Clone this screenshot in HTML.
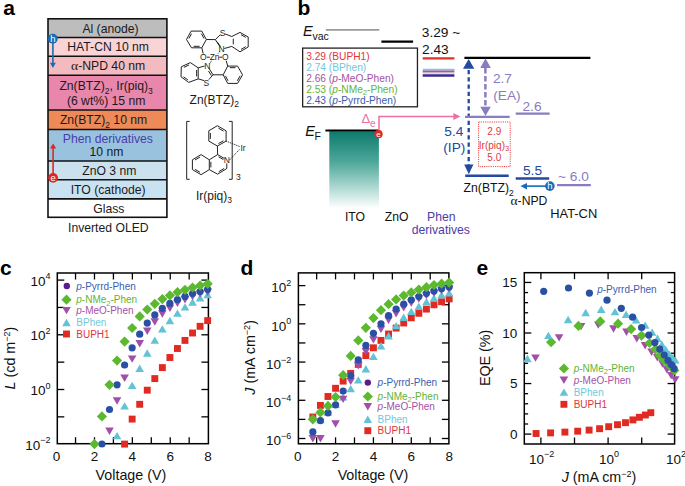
<!DOCTYPE html>
<html><head><meta charset="utf-8"><title>Inverted OLED figure</title>
<style>
html,body{margin:0;padding:0;background:#fff;width:685px;height:486px;overflow:hidden}
svg{display:block}
svg text{font-family:"Liberation Sans",sans-serif}
</style></head><body>
<svg width="685" height="486" viewBox="0 0 685 486">
<rect width="685" height="486" fill="#fff"/>
<g id="pa">
<text x="3.2" y="15" font-size="21" fill="#000" text-anchor="start" font-weight="bold" font-style="normal" >a</text>
<text x="297.6" y="14.6" font-size="21" fill="#000" text-anchor="start" font-weight="bold" font-style="normal" >b</text>
<text x="0" y="275" font-size="21" fill="#000" text-anchor="start" font-weight="bold" font-style="normal" >c</text>
<text x="240.4" y="275" font-size="21" fill="#000" text-anchor="start" font-weight="bold" font-style="normal" >d</text>
<text x="476.6" y="274.6" font-size="21" fill="#000" text-anchor="start" font-weight="bold" font-style="normal" >e</text>
<rect x="48.0" y="18.8" width="118.9" height="18.7" fill="#bdbdbd" stroke="none" stroke-width="0" />
<rect x="48.0" y="37.5" width="118.9" height="18.799999999999997" fill="#f9d4d7" stroke="none" stroke-width="0" />
<rect x="48.0" y="56.3" width="118.9" height="19.0" fill="#f3bbbf" stroke="none" stroke-width="0" />
<rect x="48.0" y="75.3" width="118.9" height="34.7" fill="#e986ab" stroke="none" stroke-width="0" />
<rect x="48.0" y="110.0" width="118.9" height="19.5" fill="#ee8a58" stroke="none" stroke-width="0" />
<rect x="48.0" y="129.5" width="118.9" height="31.5" fill="#98c2de" stroke="none" stroke-width="0" />
<rect x="48.0" y="161.0" width="118.9" height="18.80000000000001" fill="#cbe1ee" stroke="none" stroke-width="0" />
<rect x="48.0" y="179.8" width="118.9" height="19.099999999999994" fill="#c9e2f1" stroke="none" stroke-width="0" />
<rect x="48.0" y="198.9" width="118.9" height="18.400000000000006" fill="#ffffff" stroke="none" stroke-width="0" />
<line x1="48.0" y1="37.5" x2="166.9" y2="37.5" stroke="#111" stroke-width="1.6" />
<line x1="48.0" y1="56.3" x2="166.9" y2="56.3" stroke="#111" stroke-width="1.6" />
<line x1="48.0" y1="75.3" x2="166.9" y2="75.3" stroke="#111" stroke-width="1.6" />
<line x1="48.0" y1="110.0" x2="166.9" y2="110.0" stroke="#111" stroke-width="1.6" />
<line x1="48.0" y1="129.5" x2="166.9" y2="129.5" stroke="#111" stroke-width="1.6" />
<line x1="48.0" y1="161.0" x2="166.9" y2="161.0" stroke="#111" stroke-width="1.6" />
<line x1="48.0" y1="179.8" x2="166.9" y2="179.8" stroke="#111" stroke-width="1.6" />
<line x1="48.0" y1="198.9" x2="166.9" y2="198.9" stroke="#111" stroke-width="1.6" />
<rect x="48.0" y="18.8" width="118.9" height="198.5" fill="none" stroke="#111" stroke-width="1.6" />
<text x="82.4" y="32.7" font-size="12.2" fill="#1a1a1a" text-anchor="start" font-weight="normal" font-style="normal" >Al (anode)</text>
<text x="67.3" y="51.4" font-size="12.2" fill="#1a1a1a" text-anchor="start" font-weight="normal" font-style="normal" >HAT-CN 10 nm</text>
<text x="71.1" y="70.2" font-size="12.2" fill="#1a1a1a"><tspan font-family='"Liberation Serif", serif' font-size="13.5">α</tspan>-NPD 40 nm</text>
<text x="59.4" y="90.0" font-size="12.2" fill="#1a1a1a">Zn(BTZ)<tspan font-size="8.5" dy="4">2</tspan><tspan dy="-4">, Ir(piq)</tspan><tspan font-size="8.5" dy="4">3</tspan></text>
<text x="66.9" y="104.6" font-size="12.2" fill="#1a1a1a" text-anchor="start" font-weight="normal" font-style="normal" >(6 wt%) 15 nm</text>
<text x="59.9" y="123.9" font-size="12.2" fill="#1a1a1a">Zn(BTZ)<tspan font-size="8.5" dy="4">2</tspan><tspan dy="-4"> 10 nm</tspan></text>
<text x="62.8" y="143.3" font-size="12.2" fill="#4a3ea6" text-anchor="start" font-weight="normal" font-style="normal" >Phen derivatives</text>
<text x="89.6" y="156.4" font-size="12.2" fill="#1a1a1a" text-anchor="start" font-weight="normal" font-style="normal" >10 nm</text>
<text x="82.2" y="175.0" font-size="12.2" fill="#1a1a1a" text-anchor="start" font-weight="normal" font-style="normal" >ZnO 3 nm</text>
<text x="70.7" y="194.0" font-size="12.2" fill="#1a1a1a" text-anchor="start" font-weight="normal" font-style="normal" >ITO (cathode)</text>
<text x="93.3" y="213.2" font-size="12.2" fill="#1a1a1a" text-anchor="start" font-weight="normal" font-style="normal" >Glass</text>
<text x="68.0" y="232.4" font-size="12.2" fill="#1a1a1a" text-anchor="start" font-weight="normal" font-style="normal" >Inverted OLED</text>
<line x1="52.9" y1="40" x2="52.9" y2="63.5" stroke="#176cb5" stroke-width="1.6" />
<polygon points="50.00,62.80 55.80,62.80 52.90,67.90" fill="#176cb5" stroke="none" stroke-width="0"/>
<circle cx="52.8" cy="38.7" r="4.9" fill="#176cb5"/>
<text x="52.9" y="42.0" font-size="9.5" fill="#fff" text-anchor="middle" font-weight="normal" font-style="normal" >h</text>
<line x1="53.1" y1="148" x2="53.1" y2="175" stroke="#e1261f" stroke-width="1.6" />
<polygon points="50.00,148.60 56.20,148.60 53.10,143.40" fill="#e1261f" stroke="none" stroke-width="0"/>
<circle cx="53.1" cy="177.9" r="4.9" fill="#e1261f"/>
<text x="53.1" y="180.9" font-size="9.5" fill="#fff" text-anchor="middle" font-weight="normal" font-style="normal" >e</text>
<polygon points="191.10,31.10 201.80,31.10 206.30,39.50 201.80,47.80 191.50,47.80 186.50,39.50" fill="none" stroke="#222" stroke-width="1.0" stroke-linejoin="round"/>
<line x1="188.87" y1="38.47" x2="191.51" y2="33.65" stroke="#222" stroke-width="1.0" />
<line x1="201.4" y1="33.65" x2="203.98" y2="38.47" stroke="#222" stroke-width="1.0" />
<line x1="199.58" y1="46.31" x2="193.67" y2="46.31" stroke="#222" stroke-width="1.0" />
<line x1="206.3" y1="39.5" x2="215.3" y2="39.6" stroke="#222" stroke-width="1.0" />
<line x1="215.3" y1="39.6" x2="220.2" y2="34.8" stroke="#222" stroke-width="1.0" />
<line x1="225.2" y1="34.0" x2="231.8" y2="36.5" stroke="#222" stroke-width="1.0" />
<line x1="215.3" y1="39.6" x2="219.9" y2="46.6" stroke="#222" stroke-width="1.0" />
<line x1="217.2" y1="41.9" x2="220.4" y2="46.4" stroke="#222" stroke-width="1.0" />
<line x1="224.3" y1="48.5" x2="231.8" y2="46.4" stroke="#222" stroke-width="1.0" />
<text x="222.7" y="36.0" font-size="8.5" fill="#222" text-anchor="middle" font-weight="normal" font-style="normal" >S</text>
<text x="221.6" y="52.0" font-size="8.5" fill="#222" text-anchor="middle" font-weight="normal" font-style="normal" >N</text>
<polyline points="231.80,36.50 240.00,32.40 248.20,37.00 248.20,47.00 240.00,51.80 231.80,46.40" fill="none" stroke="#222" stroke-width="1.0" stroke-linejoin="round"/>
<line x1="233.28" y1="44.39" x2="233.28" y2="38.71" stroke="#222" stroke-width="1.0" />
<line x1="241.01" y1="34.69" x2="245.72" y2="37.33" stroke="#222" stroke-width="1.0" />
<line x1="245.72" y1="46.69" x2="241.01" y2="49.45" stroke="#222" stroke-width="1.0" />
<line x1="201.8" y1="47.8" x2="203.2" y2="53.6" stroke="#222" stroke-width="1.0" />
<text x="203.4" y="60.3" font-size="8.5" fill="#222" text-anchor="middle" font-weight="normal" font-style="normal" >O</text>
<line x1="206.8" y1="57.2" x2="209.8" y2="57.2" stroke="#222" stroke-width="1.0" />
<text x="214.6" y="60.3" font-size="8.5" fill="#222" text-anchor="middle" font-weight="normal" font-style="normal" >Zn</text>
<line x1="219.4" y1="57.2" x2="222.0" y2="57.2" stroke="#222" stroke-width="1.0" />
<text x="225.3" y="60.3" font-size="8.5" fill="#222" text-anchor="middle" font-weight="normal" font-style="normal" >O</text>
<line x1="219.9" y1="51.2" x2="217.6" y2="54.0" stroke="#222" stroke-width="1.0" stroke-dasharray="1,1"/>
<line x1="211.5" y1="60.8" x2="209.5" y2="64.2" stroke="#222" stroke-width="1.0" stroke-dasharray="1,1"/>
<line x1="226.2" y1="60.7" x2="227.7" y2="66.1" stroke="#222" stroke-width="1.0" />
<polygon points="227.70,66.10 237.60,66.10 242.50,74.80 237.60,83.40 227.70,83.40 223.20,74.80" fill="none" stroke="#222" stroke-width="1.0" stroke-linejoin="round"/>
<line x1="229.8" y1="67.67" x2="235.48" y2="67.67" stroke="#222" stroke-width="1.0" />
<line x1="240.12" y1="75.86" x2="237.3" y2="80.79" stroke="#222" stroke-width="1.0" />
<line x1="228.03" y1="80.79" x2="225.45" y2="75.86" stroke="#222" stroke-width="1.0" />
<line x1="213.0" y1="74.8" x2="223.2" y2="74.8" stroke="#222" stroke-width="1.0" />
<text x="207.2" y="68.8" font-size="8.5" fill="#222" text-anchor="middle" font-weight="normal" font-style="normal" >N</text>
<text x="206.4" y="86.2" font-size="8.5" fill="#222" text-anchor="middle" font-weight="normal" font-style="normal" >S</text>
<line x1="209.0" y1="68.4" x2="213.0" y2="74.8" stroke="#222" stroke-width="1.0" />
<line x1="208.5" y1="71.0" x2="211.4" y2="75.5" stroke="#222" stroke-width="1.0" />
<line x1="213.0" y1="74.8" x2="208.8" y2="79.6" stroke="#222" stroke-width="1.0" />
<line x1="204.2" y1="80.6" x2="198.2" y2="78.9" stroke="#222" stroke-width="1.0" />
<line x1="198.2" y1="67.8" x2="204.6" y2="66.0" stroke="#222" stroke-width="1.0" />
<polygon points="198.20,67.80 190.30,62.60 181.30,66.80 181.00,76.80 188.70,82.40 198.20,78.90" fill="none" stroke="#222" stroke-width="1.0" stroke-linejoin="round"/>
<line x1="196.65" y1="70.03" x2="196.65" y2="76.4" stroke="#222" stroke-width="1.0" />
<line x1="189.07" y1="64.92" x2="183.9" y2="67.33" stroke="#222" stroke-width="1.0" />
<line x1="183.5" y1="76.73" x2="187.91" y2="79.95" stroke="#222" stroke-width="1.0" />
<text x="189.6" y="103.9" font-size="12" fill="#1a1a1a">Zn(BTZ)<tspan font-size="8.5" dy="3.2">2</tspan></text>
<line x1="186.7" y1="121.4" x2="186.7" y2="179.3" stroke="#222" stroke-width="1.0" />
<line x1="186.7" y1="121.4" x2="189.7" y2="121.4" stroke="#222" stroke-width="1.0" />
<line x1="186.7" y1="179.3" x2="189.7" y2="179.3" stroke="#222" stroke-width="1.0" />
<line x1="232.2" y1="121.4" x2="232.2" y2="179.3" stroke="#222" stroke-width="1.0" />
<line x1="232.2" y1="121.4" x2="229.0" y2="121.4" stroke="#222" stroke-width="1.0" />
<line x1="232.2" y1="179.3" x2="229.0" y2="179.3" stroke="#222" stroke-width="1.0" />
<text x="236.0" y="180.0" font-size="8.5" fill="#222" text-anchor="start" font-weight="normal" font-style="normal" >3</text>
<polygon points="217.40,125.70 226.10,130.80 226.10,141.10 217.40,146.00 208.80,141.10 208.80,130.80" fill="none" stroke="#222" stroke-width="1.0" stroke-linejoin="round"/>
<line x1="218.47" y1="128.16" x2="223.46" y2="131.09" stroke="#222" stroke-width="1.0" />
<line x1="223.46" y1="140.77" x2="218.47" y2="143.58" stroke="#222" stroke-width="1.0" />
<line x1="210.35" y1="138.9" x2="210.35" y2="132.98" stroke="#222" stroke-width="1.0" />
<line x1="217.4" y1="146.0" x2="217.6" y2="154.6" stroke="#222" stroke-width="1.0" />
<line x1="217.6" y1="154.6" x2="224.2" y2="158.4" stroke="#222" stroke-width="1.0" />
<line x1="218.6" y1="156.8" x2="223.4" y2="159.6" stroke="#222" stroke-width="1.0" />
<text x="226.8" y="163.4" font-size="8.5" fill="#222" text-anchor="middle" font-weight="normal" font-style="normal" >N</text>
<polyline points="226.80,163.40 226.80,168.50 217.60,174.20 209.30,169.60 209.30,159.80 217.60,154.60" fill="none" stroke="#222" stroke-width="1.0" stroke-linejoin="round"/>
<line x1="224.07" y1="168.46" x2="218.79" y2="171.73" stroke="#222" stroke-width="1.0" />
<line x1="210.85" y1="167.46" x2="210.85" y2="161.83" stroke="#222" stroke-width="1.0" />
<polyline points="209.30,159.80 201.10,154.60 192.40,159.80 192.40,169.60 201.10,174.70 209.30,169.60" fill="none" stroke="#222" stroke-width="1.0" stroke-linejoin="round"/>
<line x1="199.98" y1="157.04" x2="194.98" y2="160.02" stroke="#222" stroke-width="1.0" />
<line x1="194.98" y1="169.33" x2="199.98" y2="172.25" stroke="#222" stroke-width="1.0" />
<text x="243.0" y="151.0" font-size="8.5" fill="#222" text-anchor="middle" font-weight="normal" font-style="normal" >Ir</text>
<line x1="226.1" y1="141.1" x2="239.5" y2="146.5" stroke="#222" stroke-width="1.0" stroke-dasharray="1.2,1"/>
<line x1="229.5" y1="160.0" x2="239.5" y2="149.5" stroke="#222" stroke-width="1.0" stroke-dasharray="1.2,1"/>
<text x="195.9" y="200.0" font-size="12" fill="#1a1a1a">Ir(piq)<tspan font-size="8.5" dy="3.2">3</tspan></text>
</g>
<g id="pb">
<text x="302.9" y="35.7" font-size="14.5" fill="#111" font-style="italic">E</text>
<text x="312.4" y="39.6" font-size="10.5" fill="#111" text-anchor="start" font-weight="normal" font-style="normal" >vac</text>
<line x1="325.8" y1="29.9" x2="379.3" y2="29.9" stroke="#9a9a9a" stroke-width="1.8" />
<line x1="381.4" y1="41.6" x2="413.1" y2="41.6" stroke="#000" stroke-width="2.2" />
<rect x="302.65" y="48.1" width="114.8" height="58.7" fill="none" stroke="#222" stroke-width="1.3" />
<text x="306.2" y="59.5" font-size="10.2" fill="#e0353a">3.29 (BUPH1)</text>
<text x="306.2" y="70.5" font-size="10.2" fill="#72c8dc">2.74 (BPhen)</text>
<text x="306.2" y="81.5" font-size="10.2" fill="#a451a6">2.66 (<tspan font-style="italic">p</tspan>-MeO-Phen)</text>
<text x="306.2" y="92.5" font-size="10.2" fill="#62b33c">2.53 (<tspan font-style="italic">p</tspan>-NMe<tspan font-size="7.5" dy="2.2">2</tspan><tspan dy="-2.2">-Phen)</tspan></text>
<text x="306.2" y="103.5" font-size="10.2" fill="#3a5db0">2.43 (<tspan font-style="italic">p</tspan>-Pyrrd-Phen)</text>
<text x="421.8" y="37.2" font-size="13.7" fill="#111" text-anchor="start" font-weight="normal" font-style="normal" >3.29 ~</text>
<text x="422.1" y="54.3" font-size="13.7" fill="#111" text-anchor="start" font-weight="normal" font-style="normal" >2.43</text>
<line x1="422.7" y1="58.4" x2="454.4" y2="58.4" stroke="#e0302a" stroke-width="2.3" />
<line x1="422.7" y1="69.6" x2="454.4" y2="69.6" stroke="#70cfe0" stroke-width="1.6" />
<line x1="422.7" y1="71.5" x2="454.4" y2="71.5" stroke="#a855a7" stroke-width="2.2" />
<line x1="422.7" y1="73.3" x2="454.4" y2="73.3" stroke="#c8e67a" stroke-width="0.9" />
<line x1="422.7" y1="75.4" x2="454.4" y2="75.4" stroke="#3b2a8e" stroke-width="2.5" />
<line x1="464.4" y1="57.9" x2="590.4" y2="57.9" stroke="#000" stroke-width="2.1" />
<line x1="468.7" y1="69.9" x2="468.7" y2="165.5" stroke="#2449a1" stroke-width="2.3" stroke-dasharray="4.3,2.95"/>
<polygon points="463.00,68.80 474.30,68.80 468.70,58.90" fill="#2449a1" stroke="none" stroke-width="0"/>
<polygon points="464.20,164.60 473.40,164.60 468.80,174.20" fill="#2449a1" stroke="none" stroke-width="0"/>
<line x1="485.4" y1="68" x2="485.4" y2="107" stroke="#8a7cc0" stroke-width="2.5" stroke-dasharray="5.5,2.5"/>
<polygon points="480.30,68.00 490.80,68.00 485.50,58.30" fill="#8a7cc0" stroke="none" stroke-width="0"/>
<polygon points="480.30,106.80 490.80,106.80 485.50,116.00" fill="#8a7cc0" stroke="none" stroke-width="0"/>
<line x1="465.0" y1="116.8" x2="509.7" y2="116.8" stroke="#8a7cc0" stroke-width="2.2" />
<text x="492.9" y="82.6" font-size="13.7" fill="#8a7cc0" text-anchor="start" font-weight="normal" font-style="normal" >2.7</text>
<text x="493.3" y="100.0" font-size="13.7" fill="#8a7cc0" text-anchor="start" font-weight="normal" font-style="normal" >(EA)</text>
<rect x="478.6" y="122.0" width="31.6" height="44.6" fill="none" stroke="#e6393c" stroke-width="1.0" stroke-dasharray="1.1,1.1"/>
<text x="494.3" y="135.4" font-size="10" fill="#e03a3d" text-anchor="middle" font-weight="normal" font-style="normal" >2.9</text>
<text x="494.0" y="148.6" font-size="10" fill="#e03a3d" text-anchor="middle">Ir(piq)<tspan font-size="7.5" dy="2.5">3</tspan></text>
<text x="494.3" y="161.0" font-size="10" fill="#e03a3d" text-anchor="middle" font-weight="normal" font-style="normal" >5.0</text>
<line x1="465.2" y1="175.7" x2="508.7" y2="175.7" stroke="#2449a1" stroke-width="2.4" />
<text x="463.6" y="192.2" font-size="12.2" fill="#111">Zn(BTZ)<tspan font-size="8.5" dy="3.4">2</tspan></text>
<text x="444.3" y="135.8" font-size="13.7" fill="#2449a1" text-anchor="start" font-weight="normal" font-style="normal" >5.4</text>
<text x="443.3" y="152.2" font-size="13.7" fill="#2449a1" text-anchor="start" font-weight="normal" font-style="normal" >(IP)</text>
<defs><linearGradient id="tg" x1="0" y1="0" x2="0" y2="1"><stop offset="0" stop-color="#0d7a6c"/><stop offset="0.4" stop-color="#4ea89a"/><stop offset="0.75" stop-color="#b3dbd4"/><stop offset="1" stop-color="#ffffff"/></linearGradient></defs>
<rect x="329.3" y="131.2" width="49.6" height="77" fill="url(#tg)" stroke="none" stroke-width="0" />
<line x1="325.4" y1="130.5" x2="378.5" y2="130.5" stroke="#000" stroke-width="2.2" />
<text x="305.2" y="136.4" font-size="14.5" fill="#111" font-style="italic">E</text>
<text x="314.6" y="140.3" font-size="10.5" fill="#111" text-anchor="start" font-weight="normal" font-style="normal" >F</text>
<polyline points="379.0,131 379.0,116.6 454.5,116.6" fill="none" stroke="#ec6fa6" stroke-width="1.5"/>
<polygon points="453.40,113.10 460.40,116.60 453.40,120.00" fill="#ec6fa6" stroke="none" stroke-width="0"/>
<text x="361.6" y="122.8" font-size="13" fill="#ec6fa6" text-anchor="start" font-weight="normal" font-style="normal" >Δ</text>
<text x="370.0" y="126.9" font-size="10" fill="#ec6fa6" text-anchor="start" font-weight="normal" font-style="normal" >e</text>
<circle cx="378.5" cy="134.2" r="4.1" fill="#e1261f"/>
<text x="378.5" y="136.9" font-size="8" fill="#fff" text-anchor="middle" font-weight="normal" font-style="normal" >e</text>
<text x="344.9" y="220.6" font-size="12.2" fill="#111" text-anchor="start" font-weight="normal" font-style="normal" >ITO</text>
<text x="384.7" y="220.6" font-size="12.2" fill="#111" text-anchor="start" font-weight="normal" font-style="normal" >ZnO</text>
<text x="427.0" y="220.6" font-size="12.2" fill="#4a3ea6" text-anchor="start" font-weight="normal" font-style="normal" >Phen</text>
<text x="411.7" y="234.4" font-size="12.2" fill="#4a3ea6" text-anchor="start" font-weight="normal" font-style="normal" >derivatives</text>
<line x1="515.7" y1="113.7" x2="549.6" y2="113.7" stroke="#8a7cc0" stroke-width="2.2" />
<text x="522.5" y="110.6" font-size="13.7" fill="#8a7cc0" text-anchor="start" font-weight="normal" font-style="normal" >2.6</text>
<line x1="515.7" y1="178.5" x2="549.2" y2="178.5" stroke="#2449a1" stroke-width="2.4" />
<text x="523.0" y="175.4" font-size="13.7" fill="#2449a1" text-anchor="start" font-weight="normal" font-style="normal" >5.5</text>
<line x1="556.9" y1="185.2" x2="590.8" y2="185.2" stroke="#8a7cc0" stroke-width="2.2" />
<text x="558.0" y="181.0" font-size="13.7" fill="#8a7cc0" text-anchor="start" font-weight="normal" font-style="normal" >~ 6.0</text>
<line x1="526" y1="186.1" x2="546" y2="186.1" stroke="#176cb5" stroke-width="1.6" />
<polygon points="527.00,182.90 527.00,189.40 520.40,186.10" fill="#176cb5" stroke="none" stroke-width="0"/>
<circle cx="549.9" cy="186.1" r="4.8" fill="#176cb5"/>
<text x="550.0" y="189.4" font-size="9.5" fill="#fff" text-anchor="middle" font-weight="normal" font-style="normal" >h</text>
<text x="510.5" y="204.8" font-size="12.2" fill="#111"><tspan font-family='"Liberation Serif", serif' font-size="13.5">α</tspan>-NPD</text>
<text x="550.2" y="217.8" font-size="12.9" fill="#111" text-anchor="start" font-weight="normal" font-style="normal" >HAT-CN</text>
</g>
<g id="pcde">
<rect x="57.3" y="273.0" width="151.10000000000002" height="170.7" fill="none" stroke="#000" stroke-width="1.5" />
<line x1="75.54" y1="443.7" x2="75.54" y2="437.2" stroke="#000" stroke-width="1.3" />
<line x1="75.54" y1="273.0" x2="75.54" y2="279.5" stroke="#000" stroke-width="1.3" />
<line x1="94.48" y1="443.7" x2="94.48" y2="437.2" stroke="#000" stroke-width="1.3" />
<line x1="94.48" y1="273.0" x2="94.48" y2="279.5" stroke="#000" stroke-width="1.3" />
<line x1="113.42" y1="443.7" x2="113.42" y2="437.2" stroke="#000" stroke-width="1.3" />
<line x1="113.42" y1="273.0" x2="113.42" y2="279.5" stroke="#000" stroke-width="1.3" />
<line x1="132.36" y1="443.7" x2="132.36" y2="437.2" stroke="#000" stroke-width="1.3" />
<line x1="132.36" y1="273.0" x2="132.36" y2="279.5" stroke="#000" stroke-width="1.3" />
<line x1="151.3" y1="443.7" x2="151.3" y2="437.2" stroke="#000" stroke-width="1.3" />
<line x1="151.3" y1="273.0" x2="151.3" y2="279.5" stroke="#000" stroke-width="1.3" />
<line x1="170.24" y1="443.7" x2="170.24" y2="437.2" stroke="#000" stroke-width="1.3" />
<line x1="170.24" y1="273.0" x2="170.24" y2="279.5" stroke="#000" stroke-width="1.3" />
<line x1="189.18" y1="443.7" x2="189.18" y2="437.2" stroke="#000" stroke-width="1.3" />
<line x1="189.18" y1="273.0" x2="189.18" y2="279.5" stroke="#000" stroke-width="1.3" />
<line x1="57.3" y1="416.85" x2="64.3" y2="416.85" stroke="#000" stroke-width="1.3" />
<line x1="208.4" y1="416.85" x2="201.4" y2="416.85" stroke="#000" stroke-width="1.3" />
<line x1="57.3" y1="389.5" x2="64.3" y2="389.5" stroke="#000" stroke-width="1.3" />
<line x1="208.4" y1="389.5" x2="201.4" y2="389.5" stroke="#000" stroke-width="1.3" />
<line x1="57.3" y1="362.15" x2="64.3" y2="362.15" stroke="#000" stroke-width="1.3" />
<line x1="208.4" y1="362.15" x2="201.4" y2="362.15" stroke="#000" stroke-width="1.3" />
<line x1="57.3" y1="334.8" x2="64.3" y2="334.8" stroke="#000" stroke-width="1.3" />
<line x1="208.4" y1="334.8" x2="201.4" y2="334.8" stroke="#000" stroke-width="1.3" />
<line x1="57.3" y1="307.45" x2="64.3" y2="307.45" stroke="#000" stroke-width="1.3" />
<line x1="208.4" y1="307.45" x2="201.4" y2="307.45" stroke="#000" stroke-width="1.3" />
<line x1="57.3" y1="280.1" x2="64.3" y2="280.1" stroke="#000" stroke-width="1.3" />
<line x1="208.4" y1="280.1" x2="201.4" y2="280.1" stroke="#000" stroke-width="1.3" />
<text x="56.6" y="460.8" font-size="13.5" fill="#111" text-anchor="middle" font-weight="normal" font-style="normal" >0</text>
<text x="94.48" y="460.8" font-size="13.5" fill="#111" text-anchor="middle" font-weight="normal" font-style="normal" >2</text>
<text x="132.36" y="460.8" font-size="13.5" fill="#111" text-anchor="middle" font-weight="normal" font-style="normal" >4</text>
<text x="170.24" y="460.8" font-size="13.5" fill="#111" text-anchor="middle" font-weight="normal" font-style="normal" >6</text>
<text x="208.12" y="460.8" font-size="13.5" fill="#111" text-anchor="middle" font-weight="normal" font-style="normal" >8</text>
<text x="50.6" y="285.60" font-size="13.5" fill="#111" text-anchor="end">10<tspan font-size="9" dy="-6.3">4</tspan></text>
<text x="50.6" y="340.30" font-size="13.5" fill="#111" text-anchor="end">10<tspan font-size="9" dy="-6.3">2</tspan></text>
<text x="50.6" y="395.00" font-size="13.5" fill="#111" text-anchor="end">10<tspan font-size="9" dy="-6.3">0</tspan></text>
<text x="50.6" y="449.70" font-size="13.5" fill="#111" text-anchor="end">10<tspan font-size="9" dy="-6.3">−2</tspan></text>
<text x="130.9" y="479.6" font-size="14.3" fill="#111" text-anchor="middle" font-weight="normal" font-style="normal" >Voltage (V)</text>
<text transform="translate(14.6,358.1) rotate(-90)" font-size="14.3" fill="#111" text-anchor="middle"><tspan font-style="italic">L</tspan> (cd m<tspan font-size="9" dy="-5">−2</tspan><tspan dy="5">)</tspan></text>
<rect x="121.15" y="440.65" width="6.9" height="6.9" fill="#e12a21"/>
<rect x="128.70" y="415.65" width="6.9" height="6.9" fill="#e12a21"/>
<rect x="136.25" y="400.85" width="6.9" height="6.9" fill="#e12a21"/>
<rect x="143.80" y="386.75" width="6.9" height="6.9" fill="#e12a21"/>
<rect x="151.35" y="375.15" width="6.9" height="6.9" fill="#e12a21"/>
<rect x="158.90" y="364.15" width="6.9" height="6.9" fill="#e12a21"/>
<rect x="166.45" y="354.05" width="6.9" height="6.9" fill="#e12a21"/>
<rect x="174.00" y="345.05" width="6.9" height="6.9" fill="#e12a21"/>
<rect x="181.55" y="336.95" width="6.9" height="6.9" fill="#e12a21"/>
<rect x="189.10" y="329.55" width="6.9" height="6.9" fill="#e12a21"/>
<rect x="196.65" y="322.85" width="6.9" height="6.9" fill="#e12a21"/>
<rect x="204.20" y="317.15" width="6.9" height="6.9" fill="#e12a21"/>
<polygon points="112.75,439.30 121.35,439.30 117.05,431.90" fill="#62c3d5" stroke="none" stroke-width="0"/>
<polygon points="120.30,409.60 128.90,409.60 124.60,402.20" fill="#62c3d5" stroke="none" stroke-width="0"/>
<polygon points="127.85,389.10 136.45,389.10 132.15,381.70" fill="#62c3d5" stroke="none" stroke-width="0"/>
<polygon points="135.40,371.90 144.00,371.90 139.70,364.50" fill="#62c3d5" stroke="none" stroke-width="0"/>
<polygon points="142.95,356.70 151.55,356.70 147.25,349.30" fill="#62c3d5" stroke="none" stroke-width="0"/>
<polygon points="150.50,343.80 159.10,343.80 154.80,336.40" fill="#62c3d5" stroke="none" stroke-width="0"/>
<polygon points="158.05,332.60 166.65,332.60 162.35,325.20" fill="#62c3d5" stroke="none" stroke-width="0"/>
<polygon points="165.60,324.20 174.20,324.20 169.90,316.80" fill="#62c3d5" stroke="none" stroke-width="0"/>
<polygon points="173.15,316.80 181.75,316.80 177.45,309.40" fill="#62c3d5" stroke="none" stroke-width="0"/>
<polygon points="180.70,310.60 189.30,310.60 185.00,303.20" fill="#62c3d5" stroke="none" stroke-width="0"/>
<polygon points="188.25,305.70 196.85,305.70 192.55,298.30" fill="#62c3d5" stroke="none" stroke-width="0"/>
<polygon points="195.80,301.50 204.40,301.50 200.10,294.10" fill="#62c3d5" stroke="none" stroke-width="0"/>
<polygon points="203.35,298.30 211.95,298.30 207.65,290.90" fill="#62c3d5" stroke="none" stroke-width="0"/>
<polygon points="105.20,427.60 113.80,427.60 109.50,435.00" fill="#a14fa8" stroke="none" stroke-width="0"/>
<polygon points="112.75,397.30 121.35,397.30 117.05,404.70" fill="#a14fa8" stroke="none" stroke-width="0"/>
<polygon points="120.30,374.50 128.90,374.50 124.60,381.90" fill="#a14fa8" stroke="none" stroke-width="0"/>
<polygon points="127.85,355.40 136.45,355.40 132.15,362.80" fill="#a14fa8" stroke="none" stroke-width="0"/>
<polygon points="135.40,340.00 144.00,340.00 139.70,347.40" fill="#a14fa8" stroke="none" stroke-width="0"/>
<polygon points="142.95,327.60 151.55,327.60 147.25,335.00" fill="#a14fa8" stroke="none" stroke-width="0"/>
<polygon points="150.50,318.30 159.10,318.30 154.80,325.70" fill="#a14fa8" stroke="none" stroke-width="0"/>
<polygon points="158.05,310.30 166.65,310.30 162.35,317.70" fill="#a14fa8" stroke="none" stroke-width="0"/>
<polygon points="165.60,304.70 174.20,304.70 169.90,312.10" fill="#a14fa8" stroke="none" stroke-width="0"/>
<polygon points="173.15,299.70 181.75,299.70 177.45,307.10" fill="#a14fa8" stroke="none" stroke-width="0"/>
<polygon points="180.70,296.00 189.30,296.00 185.00,303.40" fill="#a14fa8" stroke="none" stroke-width="0"/>
<polygon points="188.25,292.80 196.85,292.80 192.55,300.20" fill="#a14fa8" stroke="none" stroke-width="0"/>
<polygon points="195.80,290.40 204.40,290.40 200.10,297.80" fill="#a14fa8" stroke="none" stroke-width="0"/>
<polygon points="203.35,288.60 211.95,288.60 207.65,296.00" fill="#a14fa8" stroke="none" stroke-width="0"/>
<circle cx="101.95" cy="444.00" r="3.6" fill="#2a50a5"/>
<circle cx="109.50" cy="409.50" r="3.6" fill="#2a50a5"/>
<circle cx="117.05" cy="384.80" r="3.6" fill="#2a50a5"/>
<circle cx="124.60" cy="365.00" r="3.6" fill="#2a50a5"/>
<circle cx="132.15" cy="347.80" r="3.6" fill="#2a50a5"/>
<circle cx="139.70" cy="334.20" r="3.6" fill="#2a50a5"/>
<circle cx="147.25" cy="323.10" r="3.6" fill="#2a50a5"/>
<circle cx="154.80" cy="314.90" r="3.6" fill="#2a50a5"/>
<circle cx="162.35" cy="308.30" r="3.6" fill="#2a50a5"/>
<circle cx="169.90" cy="303.30" r="3.6" fill="#2a50a5"/>
<circle cx="177.45" cy="299.60" r="3.6" fill="#2a50a5"/>
<circle cx="185.00" cy="296.40" r="3.6" fill="#2a50a5"/>
<circle cx="192.55" cy="293.50" r="3.6" fill="#2a50a5"/>
<circle cx="200.10" cy="291.50" r="3.6" fill="#2a50a5"/>
<circle cx="207.65" cy="289.30" r="3.6" fill="#2a50a5"/>
<polygon points="94.40,439.00 99.50,444.10 94.40,449.20 89.30,444.10" fill="#5cb82f" stroke="none" stroke-width="0"/>
<polygon points="101.95,411.30 107.05,416.40 101.95,421.50 96.85,416.40" fill="#5cb82f" stroke="none" stroke-width="0"/>
<polygon points="109.50,379.70 114.60,384.80 109.50,389.90 104.40,384.80" fill="#5cb82f" stroke="none" stroke-width="0"/>
<polygon points="117.05,355.50 122.15,360.60 117.05,365.70 111.95,360.60" fill="#5cb82f" stroke="none" stroke-width="0"/>
<polygon points="124.60,336.50 129.70,341.60 124.60,346.70 119.50,341.60" fill="#5cb82f" stroke="none" stroke-width="0"/>
<polygon points="132.15,322.90 137.25,328.00 132.15,333.10 127.05,328.00" fill="#5cb82f" stroke="none" stroke-width="0"/>
<polygon points="139.70,311.30 144.80,316.40 139.70,321.50 134.60,316.40" fill="#5cb82f" stroke="none" stroke-width="0"/>
<polygon points="147.25,304.40 152.35,309.50 147.25,314.60 142.15,309.50" fill="#5cb82f" stroke="none" stroke-width="0"/>
<polygon points="154.80,298.70 159.90,303.80 154.80,308.90 149.70,303.80" fill="#5cb82f" stroke="none" stroke-width="0"/>
<polygon points="162.35,294.00 167.45,299.10 162.35,304.20 157.25,299.10" fill="#5cb82f" stroke="none" stroke-width="0"/>
<polygon points="169.90,290.30 175.00,295.40 169.90,300.50 164.80,295.40" fill="#5cb82f" stroke="none" stroke-width="0"/>
<polygon points="177.45,287.10 182.55,292.20 177.45,297.30 172.35,292.20" fill="#5cb82f" stroke="none" stroke-width="0"/>
<polygon points="185.00,284.70 190.10,289.80 185.00,294.90 179.90,289.80" fill="#5cb82f" stroke="none" stroke-width="0"/>
<polygon points="192.55,282.40 197.65,287.50 192.55,292.60 187.45,287.50" fill="#5cb82f" stroke="none" stroke-width="0"/>
<polygon points="200.10,280.50 205.20,285.60 200.10,290.70 195.00,285.60" fill="#5cb82f" stroke="none" stroke-width="0"/>
<polygon points="207.65,278.70 212.75,283.80 207.65,288.90 202.55,283.80" fill="#5cb82f" stroke="none" stroke-width="0"/>
<circle cx="66.8" cy="286" r="3.2" fill="#5a1c8f"/>
<polygon points="66.50,294.60 71.60,299.70 66.50,304.80 61.40,299.70" fill="#5cb82f" stroke="none" stroke-width="0"/>
<polygon points="62.20,306.90 70.80,306.90 66.50,314.30" fill="#a14fa8" stroke="none" stroke-width="0"/>
<polygon points="62.20,326.20 70.80,326.20 66.50,318.80" fill="#62c3d5" stroke="none" stroke-width="0"/>
<rect x="63.05" y="330.55" width="6.9" height="6.9" fill="#e12a21"/>
<text x="76.3" y="289.7" font-size="10" fill="#3a5db0"><tspan font-style="italic">p</tspan>-Pyrrd-Phen</text>
<text x="76.3" y="303.3" font-size="10" fill="#5fb33a"><tspan font-style="italic">p</tspan>-NMe<tspan font-size="7.5" dy="2.2">2</tspan><tspan dy="-2.2">-Phen</tspan></text>
<text x="76.3" y="314.3" font-size="10" fill="#a451a6"><tspan font-style="italic">p</tspan>-MeO-Phen</text>
<text x="76.3" y="326.3" font-size="10" fill="#72c8dc">BPhen</text>
<text x="76.3" y="337.7" font-size="10" fill="#e0353a">BUPH1</text>
<rect x="298.4" y="272.9" width="150.5" height="170.90000000000003" fill="none" stroke="#000" stroke-width="1.5" />
<line x1="316.63" y1="443.8" x2="316.63" y2="437.3" stroke="#000" stroke-width="1.3" />
<line x1="316.63" y1="272.9" x2="316.63" y2="279.4" stroke="#000" stroke-width="1.3" />
<line x1="335.56" y1="443.8" x2="335.56" y2="437.3" stroke="#000" stroke-width="1.3" />
<line x1="335.56" y1="272.9" x2="335.56" y2="279.4" stroke="#000" stroke-width="1.3" />
<line x1="354.49" y1="443.8" x2="354.49" y2="437.3" stroke="#000" stroke-width="1.3" />
<line x1="354.49" y1="272.9" x2="354.49" y2="279.4" stroke="#000" stroke-width="1.3" />
<line x1="373.42" y1="443.8" x2="373.42" y2="437.3" stroke="#000" stroke-width="1.3" />
<line x1="373.42" y1="272.9" x2="373.42" y2="279.4" stroke="#000" stroke-width="1.3" />
<line x1="392.35" y1="443.8" x2="392.35" y2="437.3" stroke="#000" stroke-width="1.3" />
<line x1="392.35" y1="272.9" x2="392.35" y2="279.4" stroke="#000" stroke-width="1.3" />
<line x1="411.28" y1="443.8" x2="411.28" y2="437.3" stroke="#000" stroke-width="1.3" />
<line x1="411.28" y1="272.9" x2="411.28" y2="279.4" stroke="#000" stroke-width="1.3" />
<line x1="430.21" y1="443.8" x2="430.21" y2="437.3" stroke="#000" stroke-width="1.3" />
<line x1="430.21" y1="272.9" x2="430.21" y2="279.4" stroke="#000" stroke-width="1.3" />
<line x1="298.4" y1="438.5" x2="305.4" y2="438.5" stroke="#000" stroke-width="1.3" />
<line x1="448.9" y1="438.5" x2="441.9" y2="438.5" stroke="#000" stroke-width="1.3" />
<line x1="298.4" y1="419.39" x2="305.4" y2="419.39" stroke="#000" stroke-width="1.3" />
<line x1="448.9" y1="419.39" x2="441.9" y2="419.39" stroke="#000" stroke-width="1.3" />
<line x1="298.4" y1="400.28" x2="305.4" y2="400.28" stroke="#000" stroke-width="1.3" />
<line x1="448.9" y1="400.28" x2="441.9" y2="400.28" stroke="#000" stroke-width="1.3" />
<line x1="298.4" y1="381.17" x2="305.4" y2="381.17" stroke="#000" stroke-width="1.3" />
<line x1="448.9" y1="381.17" x2="441.9" y2="381.17" stroke="#000" stroke-width="1.3" />
<line x1="298.4" y1="362.06" x2="305.4" y2="362.06" stroke="#000" stroke-width="1.3" />
<line x1="448.9" y1="362.06" x2="441.9" y2="362.06" stroke="#000" stroke-width="1.3" />
<line x1="298.4" y1="342.95" x2="305.4" y2="342.95" stroke="#000" stroke-width="1.3" />
<line x1="448.9" y1="342.95" x2="441.9" y2="342.95" stroke="#000" stroke-width="1.3" />
<line x1="298.4" y1="323.84" x2="305.4" y2="323.84" stroke="#000" stroke-width="1.3" />
<line x1="448.9" y1="323.84" x2="441.9" y2="323.84" stroke="#000" stroke-width="1.3" />
<line x1="298.4" y1="304.73" x2="305.4" y2="304.73" stroke="#000" stroke-width="1.3" />
<line x1="448.9" y1="304.73" x2="441.9" y2="304.73" stroke="#000" stroke-width="1.3" />
<line x1="298.4" y1="285.62" x2="305.4" y2="285.62" stroke="#000" stroke-width="1.3" />
<line x1="448.9" y1="285.62" x2="441.9" y2="285.62" stroke="#000" stroke-width="1.3" />
<text x="297.7" y="460.8" font-size="13.5" fill="#111" text-anchor="middle" font-weight="normal" font-style="normal" >0</text>
<text x="335.56" y="460.8" font-size="13.5" fill="#111" text-anchor="middle" font-weight="normal" font-style="normal" >2</text>
<text x="373.42" y="460.8" font-size="13.5" fill="#111" text-anchor="middle" font-weight="normal" font-style="normal" >4</text>
<text x="411.28" y="460.8" font-size="13.5" fill="#111" text-anchor="middle" font-weight="normal" font-style="normal" >6</text>
<text x="449.14" y="460.8" font-size="13.5" fill="#111" text-anchor="middle" font-weight="normal" font-style="normal" >8</text>
<text x="291.2" y="292.42" font-size="13.5" fill="#111" text-anchor="end">10<tspan font-size="9" dy="-6.3">2</tspan></text>
<text x="291.2" y="330.64" font-size="13.5" fill="#111" text-anchor="end">10<tspan font-size="9" dy="-6.3">0</tspan></text>
<text x="291.2" y="368.86" font-size="13.5" fill="#111" text-anchor="end">10<tspan font-size="9" dy="-6.3">−2</tspan></text>
<text x="291.2" y="407.08" font-size="13.5" fill="#111" text-anchor="end">10<tspan font-size="9" dy="-6.3">−4</tspan></text>
<text x="291.2" y="445.30" font-size="13.5" fill="#111" text-anchor="end">10<tspan font-size="9" dy="-6.3">−6</tspan></text>
<text x="373.0" y="479.6" font-size="14.3" fill="#111" text-anchor="middle" font-weight="normal" font-style="normal" >Voltage (V)</text>
<text transform="translate(254.5,357.4) rotate(-90)" font-size="14.3" fill="#111" text-anchor="middle"><tspan font-style="italic">J</tspan> (mA cm<tspan font-size="9" dy="-5">−2</tspan><tspan dy="5">)</tspan></text>
<rect x="309.39" y="413.55" width="6.9" height="6.9" fill="#e12a21"/>
<rect x="316.97" y="401.95" width="6.9" height="6.9" fill="#e12a21"/>
<rect x="324.54" y="393.05" width="6.9" height="6.9" fill="#e12a21"/>
<rect x="332.11" y="384.85" width="6.9" height="6.9" fill="#e12a21"/>
<rect x="339.68" y="377.65" width="6.9" height="6.9" fill="#e12a21"/>
<rect x="347.25" y="369.95" width="6.9" height="6.9" fill="#e12a21"/>
<rect x="354.83" y="360.95" width="6.9" height="6.9" fill="#e12a21"/>
<rect x="362.40" y="352.15" width="6.9" height="6.9" fill="#e12a21"/>
<rect x="369.97" y="344.35" width="6.9" height="6.9" fill="#e12a21"/>
<rect x="377.54" y="336.95" width="6.9" height="6.9" fill="#e12a21"/>
<rect x="385.11" y="330.55" width="6.9" height="6.9" fill="#e12a21"/>
<rect x="392.69" y="324.65" width="6.9" height="6.9" fill="#e12a21"/>
<rect x="400.26" y="319.55" width="6.9" height="6.9" fill="#e12a21"/>
<rect x="407.83" y="314.35" width="6.9" height="6.9" fill="#e12a21"/>
<rect x="415.40" y="309.85" width="6.9" height="6.9" fill="#e12a21"/>
<rect x="422.97" y="305.65" width="6.9" height="6.9" fill="#e12a21"/>
<rect x="430.55" y="301.35" width="6.9" height="6.9" fill="#e12a21"/>
<rect x="438.12" y="298.25" width="6.9" height="6.9" fill="#e12a21"/>
<rect x="445.69" y="295.45" width="6.9" height="6.9" fill="#e12a21"/>
<polygon points="316.12,423.20 324.72,423.20 320.42,415.80" fill="#62c3d5" stroke="none" stroke-width="0"/>
<polygon points="323.69,415.80 332.29,415.80 327.99,408.40" fill="#62c3d5" stroke="none" stroke-width="0"/>
<polygon points="331.26,408.00 339.86,408.00 335.56,400.60" fill="#62c3d5" stroke="none" stroke-width="0"/>
<polygon points="338.83,400.60 347.43,400.60 343.13,393.20" fill="#62c3d5" stroke="none" stroke-width="0"/>
<polygon points="346.40,392.30 355.00,392.30 350.70,384.90" fill="#62c3d5" stroke="none" stroke-width="0"/>
<polygon points="353.98,383.60 362.58,383.60 358.28,376.20" fill="#62c3d5" stroke="none" stroke-width="0"/>
<polygon points="361.55,372.50 370.15,372.50 365.85,365.10" fill="#62c3d5" stroke="none" stroke-width="0"/>
<polygon points="369.12,360.10 377.72,360.10 373.42,352.70" fill="#62c3d5" stroke="none" stroke-width="0"/>
<polygon points="376.69,349.50 385.29,349.50 380.99,342.10" fill="#62c3d5" stroke="none" stroke-width="0"/>
<polygon points="384.26,339.50 392.86,339.50 388.56,332.10" fill="#62c3d5" stroke="none" stroke-width="0"/>
<polygon points="391.84,329.30 400.44,329.30 396.14,321.90" fill="#62c3d5" stroke="none" stroke-width="0"/>
<polygon points="399.41,321.00 408.01,321.00 403.71,313.60" fill="#62c3d5" stroke="none" stroke-width="0"/>
<polygon points="406.98,315.10 415.58,315.10 411.28,307.70" fill="#62c3d5" stroke="none" stroke-width="0"/>
<polygon points="414.55,309.90 423.15,309.90 418.85,302.50" fill="#62c3d5" stroke="none" stroke-width="0"/>
<polygon points="422.12,305.30 430.72,305.30 426.42,297.90" fill="#62c3d5" stroke="none" stroke-width="0"/>
<polygon points="429.70,301.60 438.30,301.60 434.00,294.20" fill="#62c3d5" stroke="none" stroke-width="0"/>
<polygon points="437.27,298.40 445.87,298.40 441.57,291.00" fill="#62c3d5" stroke="none" stroke-width="0"/>
<polygon points="444.84,296.60 453.44,296.60 449.14,289.20" fill="#62c3d5" stroke="none" stroke-width="0"/>
<polygon points="308.54,435.10 317.14,435.10 312.84,442.50" fill="#a14fa8" stroke="none" stroke-width="0"/>
<polygon points="316.12,435.10 324.72,435.10 320.42,442.50" fill="#a14fa8" stroke="none" stroke-width="0"/>
<polygon points="331.26,420.30 339.86,420.30 335.56,427.70" fill="#a14fa8" stroke="none" stroke-width="0"/>
<polygon points="338.83,395.70 347.43,395.70 343.13,403.10" fill="#a14fa8" stroke="none" stroke-width="0"/>
<polygon points="346.40,377.70 355.00,377.70 350.70,385.10" fill="#a14fa8" stroke="none" stroke-width="0"/>
<polygon points="353.98,362.10 362.58,362.10 358.28,369.50" fill="#a14fa8" stroke="none" stroke-width="0"/>
<polygon points="361.55,347.90 370.15,347.90 365.85,355.30" fill="#a14fa8" stroke="none" stroke-width="0"/>
<polygon points="369.12,336.20 377.72,336.20 373.42,343.60" fill="#a14fa8" stroke="none" stroke-width="0"/>
<polygon points="376.69,325.70 385.29,325.70 380.99,333.10" fill="#a14fa8" stroke="none" stroke-width="0"/>
<polygon points="384.26,316.60 392.86,316.60 388.56,324.00" fill="#a14fa8" stroke="none" stroke-width="0"/>
<polygon points="391.84,310.10 400.44,310.10 396.14,317.50" fill="#a14fa8" stroke="none" stroke-width="0"/>
<polygon points="399.41,304.20 408.01,304.20 403.71,311.60" fill="#a14fa8" stroke="none" stroke-width="0"/>
<polygon points="406.98,299.40 415.58,299.40 411.28,306.80" fill="#a14fa8" stroke="none" stroke-width="0"/>
<polygon points="414.55,295.30 423.15,295.30 418.85,302.70" fill="#a14fa8" stroke="none" stroke-width="0"/>
<polygon points="422.12,291.90 430.72,291.90 426.42,299.30" fill="#a14fa8" stroke="none" stroke-width="0"/>
<polygon points="429.70,289.40 438.30,289.40 434.00,296.80" fill="#a14fa8" stroke="none" stroke-width="0"/>
<polygon points="437.27,286.90 445.87,286.90 441.57,294.30" fill="#a14fa8" stroke="none" stroke-width="0"/>
<polygon points="444.84,285.40 453.44,285.40 449.14,292.80" fill="#a14fa8" stroke="none" stroke-width="0"/>
<circle cx="312.84" cy="431.90" r="3.6" fill="#2a50a5"/>
<circle cx="320.42" cy="420.60" r="3.6" fill="#2a50a5"/>
<circle cx="327.99" cy="412.80" r="3.6" fill="#2a50a5"/>
<circle cx="335.56" cy="404.80" r="3.6" fill="#2a50a5"/>
<circle cx="343.13" cy="391.00" r="3.6" fill="#2a50a5"/>
<circle cx="350.70" cy="375.60" r="3.6" fill="#2a50a5"/>
<circle cx="358.28" cy="359.80" r="3.6" fill="#2a50a5"/>
<circle cx="365.85" cy="345.40" r="3.6" fill="#2a50a5"/>
<circle cx="373.42" cy="333.30" r="3.6" fill="#2a50a5"/>
<circle cx="380.99" cy="323.80" r="3.6" fill="#2a50a5"/>
<circle cx="388.56" cy="315.60" r="3.6" fill="#2a50a5"/>
<circle cx="396.14" cy="309.10" r="3.6" fill="#2a50a5"/>
<circle cx="403.71" cy="304.10" r="3.6" fill="#2a50a5"/>
<circle cx="411.28" cy="299.80" r="3.6" fill="#2a50a5"/>
<circle cx="418.85" cy="296.50" r="3.6" fill="#2a50a5"/>
<circle cx="426.42" cy="293.30" r="3.6" fill="#2a50a5"/>
<circle cx="434.00" cy="290.90" r="3.6" fill="#2a50a5"/>
<circle cx="441.57" cy="288.70" r="3.6" fill="#2a50a5"/>
<circle cx="449.14" cy="286.90" r="3.6" fill="#2a50a5"/>
<polygon points="312.84,414.20 317.94,419.30 312.84,424.40 307.74,419.30" fill="#5cb82f" stroke="none" stroke-width="0"/>
<polygon points="320.42,407.30 325.52,412.40 320.42,417.50 315.32,412.40" fill="#5cb82f" stroke="none" stroke-width="0"/>
<polygon points="327.99,400.80 333.09,405.90 327.99,411.00 322.89,405.90" fill="#5cb82f" stroke="none" stroke-width="0"/>
<polygon points="335.56,391.90 340.66,397.00 335.56,402.10 330.46,397.00" fill="#5cb82f" stroke="none" stroke-width="0"/>
<polygon points="343.13,370.10 348.23,375.20 343.13,380.30 338.03,375.20" fill="#5cb82f" stroke="none" stroke-width="0"/>
<polygon points="350.70,350.80 355.80,355.90 350.70,361.00 345.60,355.90" fill="#5cb82f" stroke="none" stroke-width="0"/>
<polygon points="358.28,335.30 363.38,340.40 358.28,345.50 353.18,340.40" fill="#5cb82f" stroke="none" stroke-width="0"/>
<polygon points="365.85,322.70 370.95,327.80 365.85,332.90 360.75,327.80" fill="#5cb82f" stroke="none" stroke-width="0"/>
<polygon points="373.42,313.00 378.52,318.10 373.42,323.20 368.32,318.10" fill="#5cb82f" stroke="none" stroke-width="0"/>
<polygon points="380.99,305.10 386.09,310.20 380.99,315.30 375.89,310.20" fill="#5cb82f" stroke="none" stroke-width="0"/>
<polygon points="388.56,299.10 393.66,304.20 388.56,309.30 383.46,304.20" fill="#5cb82f" stroke="none" stroke-width="0"/>
<polygon points="396.14,294.30 401.24,299.40 396.14,304.50 391.04,299.40" fill="#5cb82f" stroke="none" stroke-width="0"/>
<polygon points="403.71,290.50 408.81,295.60 403.71,300.70 398.61,295.60" fill="#5cb82f" stroke="none" stroke-width="0"/>
<polygon points="411.28,287.30 416.38,292.40 411.28,297.50 406.18,292.40" fill="#5cb82f" stroke="none" stroke-width="0"/>
<polygon points="418.85,284.50 423.95,289.60 418.85,294.70 413.75,289.60" fill="#5cb82f" stroke="none" stroke-width="0"/>
<polygon points="426.42,282.10 431.52,287.20 426.42,292.30 421.32,287.20" fill="#5cb82f" stroke="none" stroke-width="0"/>
<polygon points="434.00,279.90 439.10,285.00 434.00,290.10 428.90,285.00" fill="#5cb82f" stroke="none" stroke-width="0"/>
<polygon points="441.57,278.60 446.67,283.70 441.57,288.80 436.47,283.70" fill="#5cb82f" stroke="none" stroke-width="0"/>
<polygon points="449.14,277.50 454.24,282.60 449.14,287.70 444.04,282.60" fill="#5cb82f" stroke="none" stroke-width="0"/>
<circle cx="367.8" cy="382.6" r="3.2" fill="#5a1c8f"/>
<polygon points="367.80,391.40 372.90,396.50 367.80,401.60 362.70,396.50" fill="#5cb82f" stroke="none" stroke-width="0"/>
<polygon points="363.50,403.10 372.10,403.10 367.80,410.50" fill="#a14fa8" stroke="none" stroke-width="0"/>
<polygon points="363.50,422.90 372.10,422.90 367.80,415.50" fill="#62c3d5" stroke="none" stroke-width="0"/>
<rect x="364.35" y="427.25" width="6.9" height="6.9" fill="#e12a21"/>
<text x="377.6" y="386.2" font-size="10" fill="#3a5db0"><tspan font-style="italic">p</tspan>-Pyrrd-Phen</text>
<text x="377.6" y="400.0" font-size="10" fill="#5fb33a"><tspan font-style="italic">p</tspan>-NMe<tspan font-size="7.5" dy="2.2">2</tspan><tspan dy="-2.2">-Phen</tspan></text>
<text x="377.6" y="410.4" font-size="10" fill="#a451a6"><tspan font-style="italic">p</tspan>-MeO-Phen</text>
<text x="377.6" y="423.0" font-size="10" fill="#72c8dc">BPhen</text>
<text x="377.6" y="434.4" font-size="10" fill="#e0353a">BUPH1</text>
<rect x="524.3" y="272.7" width="150.30000000000007" height="171.3" fill="none" stroke="#000" stroke-width="1.5" />
<line x1="540.9" y1="444.0" x2="540.9" y2="437.5" stroke="#000" stroke-width="1.3" />
<line x1="540.9" y1="272.7" x2="540.9" y2="279.2" stroke="#000" stroke-width="1.3" />
<line x1="574.5" y1="444.0" x2="574.5" y2="437.5" stroke="#000" stroke-width="1.3" />
<line x1="574.5" y1="272.7" x2="574.5" y2="279.2" stroke="#000" stroke-width="1.3" />
<line x1="608.1" y1="444.0" x2="608.1" y2="437.5" stroke="#000" stroke-width="1.3" />
<line x1="608.1" y1="272.7" x2="608.1" y2="279.2" stroke="#000" stroke-width="1.3" />
<line x1="641.7" y1="444.0" x2="641.7" y2="437.5" stroke="#000" stroke-width="1.3" />
<line x1="641.7" y1="272.7" x2="641.7" y2="279.2" stroke="#000" stroke-width="1.3" />
<line x1="524.3" y1="434.1" x2="531.3" y2="434.1" stroke="#000" stroke-width="1.3" />
<line x1="674.6" y1="434.1" x2="667.6" y2="434.1" stroke="#000" stroke-width="1.3" />
<line x1="524.3" y1="423.99" x2="528.0999999999999" y2="423.99" stroke="#000" stroke-width="1.3" />
<line x1="674.6" y1="423.99" x2="670.8000000000001" y2="423.99" stroke="#000" stroke-width="1.3" />
<line x1="524.3" y1="413.88" x2="528.0999999999999" y2="413.88" stroke="#000" stroke-width="1.3" />
<line x1="674.6" y1="413.88" x2="670.8000000000001" y2="413.88" stroke="#000" stroke-width="1.3" />
<line x1="524.3" y1="403.77" x2="528.0999999999999" y2="403.77" stroke="#000" stroke-width="1.3" />
<line x1="674.6" y1="403.77" x2="670.8000000000001" y2="403.77" stroke="#000" stroke-width="1.3" />
<line x1="524.3" y1="393.66" x2="528.0999999999999" y2="393.66" stroke="#000" stroke-width="1.3" />
<line x1="674.6" y1="393.66" x2="670.8000000000001" y2="393.66" stroke="#000" stroke-width="1.3" />
<line x1="524.3" y1="383.55" x2="531.3" y2="383.55" stroke="#000" stroke-width="1.3" />
<line x1="674.6" y1="383.55" x2="667.6" y2="383.55" stroke="#000" stroke-width="1.3" />
<line x1="524.3" y1="373.44" x2="528.0999999999999" y2="373.44" stroke="#000" stroke-width="1.3" />
<line x1="674.6" y1="373.44" x2="670.8000000000001" y2="373.44" stroke="#000" stroke-width="1.3" />
<line x1="524.3" y1="363.33" x2="528.0999999999999" y2="363.33" stroke="#000" stroke-width="1.3" />
<line x1="674.6" y1="363.33" x2="670.8000000000001" y2="363.33" stroke="#000" stroke-width="1.3" />
<line x1="524.3" y1="353.22" x2="528.0999999999999" y2="353.22" stroke="#000" stroke-width="1.3" />
<line x1="674.6" y1="353.22" x2="670.8000000000001" y2="353.22" stroke="#000" stroke-width="1.3" />
<line x1="524.3" y1="343.11" x2="528.0999999999999" y2="343.11" stroke="#000" stroke-width="1.3" />
<line x1="674.6" y1="343.11" x2="670.8000000000001" y2="343.11" stroke="#000" stroke-width="1.3" />
<line x1="524.3" y1="333.0" x2="531.3" y2="333.0" stroke="#000" stroke-width="1.3" />
<line x1="674.6" y1="333.0" x2="667.6" y2="333.0" stroke="#000" stroke-width="1.3" />
<line x1="524.3" y1="322.89" x2="528.0999999999999" y2="322.89" stroke="#000" stroke-width="1.3" />
<line x1="674.6" y1="322.89" x2="670.8000000000001" y2="322.89" stroke="#000" stroke-width="1.3" />
<line x1="524.3" y1="312.78" x2="528.0999999999999" y2="312.78" stroke="#000" stroke-width="1.3" />
<line x1="674.6" y1="312.78" x2="670.8000000000001" y2="312.78" stroke="#000" stroke-width="1.3" />
<line x1="524.3" y1="302.67" x2="528.0999999999999" y2="302.67" stroke="#000" stroke-width="1.3" />
<line x1="674.6" y1="302.67" x2="670.8000000000001" y2="302.67" stroke="#000" stroke-width="1.3" />
<line x1="524.3" y1="292.56" x2="528.0999999999999" y2="292.56" stroke="#000" stroke-width="1.3" />
<line x1="674.6" y1="292.56" x2="670.8000000000001" y2="292.56" stroke="#000" stroke-width="1.3" />
<line x1="524.3" y1="282.45" x2="531.3" y2="282.45" stroke="#000" stroke-width="1.3" />
<line x1="674.6" y1="282.45" x2="667.6" y2="282.45" stroke="#000" stroke-width="1.3" />
<text x="517.4" y="438.6" font-size="13.5" fill="#111" text-anchor="end" font-weight="normal" font-style="normal" >0</text>
<text x="517.4" y="388.05" font-size="13.5" fill="#111" text-anchor="end" font-weight="normal" font-style="normal" >5</text>
<text x="517.4" y="337.5" font-size="13.5" fill="#111" text-anchor="end" font-weight="normal" font-style="normal" >10</text>
<text x="517.4" y="286.95" font-size="13.5" fill="#111" text-anchor="end" font-weight="normal" font-style="normal" >15</text>
<text x="541.70" y="463.6" font-size="13.5" fill="#111" text-anchor="middle">10<tspan font-size="9" dy="-6.3">−2</tspan></text>
<text x="608.90" y="463.6" font-size="13.5" fill="#111" text-anchor="middle">10<tspan font-size="9" dy="-6.3">0</tspan></text>
<text x="676.10" y="463.6" font-size="13.5" fill="#111" text-anchor="middle">10<tspan font-size="9" dy="-6.3">2</tspan></text>
<text x="599" y="481.5" font-size="14.3" fill="#111" text-anchor="middle"><tspan font-style="italic">J</tspan> (mA cm<tspan font-size="9" dy="-5">−2</tspan><tspan dy="5">)</tspan></text>
<text x="0" y="0" font-size="1" fill="#1a1a1a" text-anchor="start" font-weight="normal" font-style="normal" ></text>
<text transform="translate(490.3,357.9) rotate(-90)" font-size="14.3" fill="#111" text-anchor="middle">EQE (%)</text>
<rect x="532.65" y="430.05" width="6.9" height="6.9" fill="#e12a21"/>
<rect x="547.15" y="429.45" width="6.9" height="6.9" fill="#e12a21"/>
<rect x="561.45" y="428.65" width="6.9" height="6.9" fill="#e12a21"/>
<rect x="574.25" y="427.75" width="6.9" height="6.9" fill="#e12a21"/>
<rect x="585.65" y="426.65" width="6.9" height="6.9" fill="#e12a21"/>
<rect x="596.15" y="425.25" width="6.9" height="6.9" fill="#e12a21"/>
<rect x="605.25" y="423.25" width="6.9" height="6.9" fill="#e12a21"/>
<rect x="614.05" y="421.25" width="6.9" height="6.9" fill="#e12a21"/>
<rect x="622.05" y="419.25" width="6.9" height="6.9" fill="#e12a21"/>
<rect x="629.45" y="416.45" width="6.9" height="6.9" fill="#e12a21"/>
<rect x="635.95" y="413.85" width="6.9" height="6.9" fill="#e12a21"/>
<rect x="641.95" y="411.55" width="6.9" height="6.9" fill="#e12a21"/>
<rect x="647.35" y="409.25" width="6.9" height="6.9" fill="#e12a21"/>
<polygon points="531.20,354.40 539.80,354.40 535.50,361.80" fill="#a14fa8" stroke="none" stroke-width="0"/>
<polygon points="554.80,334.20 563.40,334.20 559.10,341.60" fill="#a14fa8" stroke="none" stroke-width="0"/>
<polygon points="576.80,322.90 585.40,322.90 581.10,330.30" fill="#a14fa8" stroke="none" stroke-width="0"/>
<polygon points="594.00,321.40 602.60,321.40 598.30,328.80" fill="#a14fa8" stroke="none" stroke-width="0"/>
<polygon points="609.20,325.30 617.80,325.30 613.50,332.70" fill="#a14fa8" stroke="none" stroke-width="0"/>
<polygon points="622.20,328.50 630.80,328.50 626.50,335.90" fill="#a14fa8" stroke="none" stroke-width="0"/>
<polygon points="632.50,335.00 641.10,335.00 636.80,342.40" fill="#a14fa8" stroke="none" stroke-width="0"/>
<polygon points="640.80,342.00 649.40,342.00 645.10,349.40" fill="#a14fa8" stroke="none" stroke-width="0"/>
<polygon points="647.30,348.60 655.90,348.60 651.60,356.00" fill="#a14fa8" stroke="none" stroke-width="0"/>
<polygon points="653.00,354.00 661.60,354.00 657.30,361.40" fill="#a14fa8" stroke="none" stroke-width="0"/>
<polygon points="658.20,360.30 666.80,360.30 662.50,367.70" fill="#a14fa8" stroke="none" stroke-width="0"/>
<polygon points="662.60,366.10 671.20,366.10 666.90,373.50" fill="#a14fa8" stroke="none" stroke-width="0"/>
<polygon points="666.90,371.90 675.50,371.90 671.20,379.30" fill="#a14fa8" stroke="none" stroke-width="0"/>
<polygon points="670.90,376.20 679.50,376.20 675.20,383.60" fill="#a14fa8" stroke="none" stroke-width="0"/>
<polygon points="551.10,337.10 556.20,342.20 551.10,347.30 546.00,342.20" fill="#5cb82f" stroke="none" stroke-width="0"/>
<polygon points="578.50,320.80 583.60,325.90 578.50,331.00 573.40,325.90" fill="#5cb82f" stroke="none" stroke-width="0"/>
<polygon points="600.30,316.30 605.40,321.40 600.30,326.50 595.20,321.40" fill="#5cb82f" stroke="none" stroke-width="0"/>
<polygon points="618.10,318.60 623.20,323.70 618.10,328.80 613.00,323.70" fill="#5cb82f" stroke="none" stroke-width="0"/>
<polygon points="631.10,324.00 636.20,329.10 631.10,334.20 626.00,329.10" fill="#5cb82f" stroke="none" stroke-width="0"/>
<polygon points="641.50,330.50 646.60,335.60 641.50,340.70 636.40,335.60" fill="#5cb82f" stroke="none" stroke-width="0"/>
<polygon points="649.60,337.90 654.70,343.00 649.60,348.10 644.50,343.00" fill="#5cb82f" stroke="none" stroke-width="0"/>
<polygon points="655.30,344.20 660.40,349.30 655.30,354.40 650.20,349.30" fill="#5cb82f" stroke="none" stroke-width="0"/>
<polygon points="659.90,350.20 665.00,355.30 659.90,360.40 654.80,355.30" fill="#5cb82f" stroke="none" stroke-width="0"/>
<polygon points="664.00,355.20 669.10,360.30 664.00,365.40 658.90,360.30" fill="#5cb82f" stroke="none" stroke-width="0"/>
<polygon points="668.00,358.80 673.10,363.90 668.00,369.00 662.90,363.90" fill="#5cb82f" stroke="none" stroke-width="0"/>
<polygon points="671.90,362.40 677.00,367.50 671.90,372.60 666.80,367.50" fill="#5cb82f" stroke="none" stroke-width="0"/>
<polygon points="674.30,365.30 679.40,370.40 674.30,375.50 669.20,370.40" fill="#5cb82f" stroke="none" stroke-width="0"/>
<polygon points="523.10,362.20 531.70,362.20 527.40,354.80" fill="#62c3d5" stroke="none" stroke-width="0"/>
<polygon points="544.10,339.10 552.70,339.10 548.40,331.70" fill="#62c3d5" stroke="none" stroke-width="0"/>
<polygon points="563.80,323.20 572.40,323.20 568.10,315.80" fill="#62c3d5" stroke="none" stroke-width="0"/>
<polygon points="581.40,316.20 590.00,316.20 585.70,308.80" fill="#62c3d5" stroke="none" stroke-width="0"/>
<polygon points="596.90,312.90 605.50,312.90 601.20,305.50" fill="#62c3d5" stroke="none" stroke-width="0"/>
<polygon points="610.70,315.30 619.30,315.30 615.00,307.90" fill="#62c3d5" stroke="none" stroke-width="0"/>
<polygon points="621.80,318.00 630.40,318.00 626.10,310.60" fill="#62c3d5" stroke="none" stroke-width="0"/>
<polygon points="631.80,323.60 640.40,323.60 636.10,316.20" fill="#62c3d5" stroke="none" stroke-width="0"/>
<polygon points="640.90,328.80 649.50,328.80 645.20,321.40" fill="#62c3d5" stroke="none" stroke-width="0"/>
<polygon points="647.90,335.80 656.50,335.80 652.20,328.40" fill="#62c3d5" stroke="none" stroke-width="0"/>
<polygon points="653.20,342.00 661.80,342.00 657.50,334.60" fill="#62c3d5" stroke="none" stroke-width="0"/>
<polygon points="657.50,347.80 666.10,347.80 661.80,340.40" fill="#62c3d5" stroke="none" stroke-width="0"/>
<polygon points="661.40,353.10 670.00,353.10 665.70,345.70" fill="#62c3d5" stroke="none" stroke-width="0"/>
<polygon points="665.10,357.90 673.70,357.90 669.40,350.50" fill="#62c3d5" stroke="none" stroke-width="0"/>
<polygon points="668.30,361.30 676.90,361.30 672.60,353.90" fill="#62c3d5" stroke="none" stroke-width="0"/>
<polygon points="670.90,363.60 679.50,363.60 675.20,356.20" fill="#62c3d5" stroke="none" stroke-width="0"/>
<circle cx="543.70" cy="291.30" r="3.6" fill="#2a50a5"/>
<circle cx="568.50" cy="288.00" r="3.6" fill="#2a50a5"/>
<circle cx="589.40" cy="293.10" r="3.6" fill="#2a50a5"/>
<circle cx="607.00" cy="300.20" r="3.6" fill="#2a50a5"/>
<circle cx="621.30" cy="308.30" r="3.6" fill="#2a50a5"/>
<circle cx="632.60" cy="317.20" r="3.6" fill="#2a50a5"/>
<circle cx="641.60" cy="327.50" r="3.6" fill="#2a50a5"/>
<circle cx="648.80" cy="335.10" r="3.6" fill="#2a50a5"/>
<circle cx="654.90" cy="342.60" r="3.6" fill="#2a50a5"/>
<circle cx="659.90" cy="349.20" r="3.6" fill="#2a50a5"/>
<circle cx="664.30" cy="355.00" r="3.6" fill="#2a50a5"/>
<circle cx="668.00" cy="360.30" r="3.6" fill="#2a50a5"/>
<circle cx="671.20" cy="364.60" r="3.6" fill="#2a50a5"/>
<circle cx="674.10" cy="368.70" r="3.6" fill="#2a50a5"/>
<polygon points="563.90,363.40 569.00,368.50 563.90,373.60 558.80,368.50" fill="#5cb82f" stroke="none" stroke-width="0"/>
<polygon points="559.60,376.60 568.20,376.60 563.90,384.00" fill="#a14fa8" stroke="none" stroke-width="0"/>
<polygon points="559.60,395.80 568.20,395.80 563.90,388.40" fill="#62c3d5" stroke="none" stroke-width="0"/>
<rect x="560.45" y="400.85" width="6.9" height="6.9" fill="#e12a21"/>
<text x="573.7" y="372.2" font-size="10" fill="#5fb33a"><tspan font-style="italic">p</tspan>-NMe<tspan font-size="7.5" dy="2.2">2</tspan><tspan dy="-2.2">-Phen</tspan></text>
<text x="573.7" y="383.9" font-size="10" fill="#a451a6"><tspan font-style="italic">p</tspan>-MeO-Phen</text>
<text x="573.7" y="395.9" font-size="10" fill="#72c8dc">BPhen</text>
<text x="573.7" y="408.0" font-size="10" fill="#e0353a">BUPH1</text>
<text x="597.2" y="292.9" font-size="10" fill="#3a5db0"><tspan font-style="italic">p</tspan>-Pyrrd-Phen</text>
</g>
</svg>
</body></html>
